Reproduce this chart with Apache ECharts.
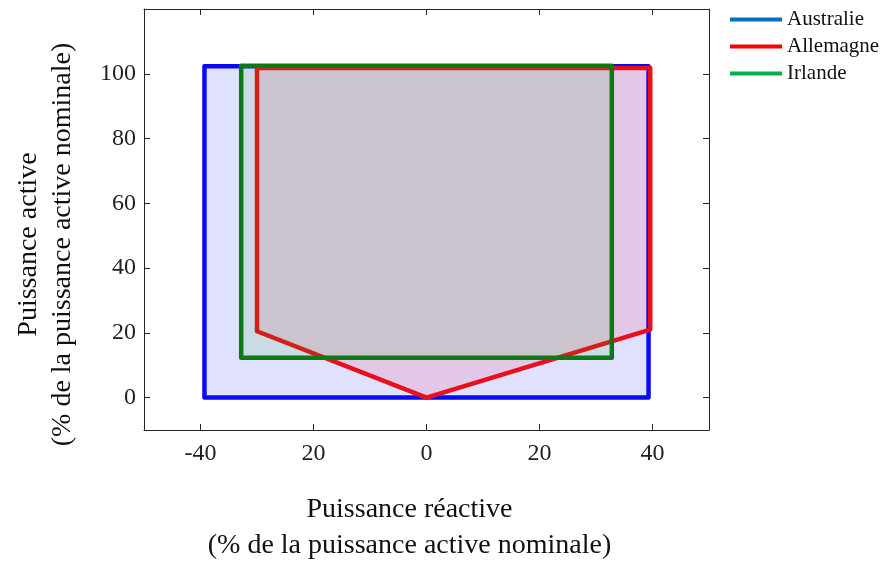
<!DOCTYPE html>
<html>
<head>
<meta charset="utf-8">
<script src="https://cdn.jsdelivr.net/npm/echarts@6/dist/echarts.min.js"></script>
<style>
  html, body { margin: 0; padding: 0; background: #fff; }
  #chart { width: 889px; height: 561px; }
</style>
</head>
<body>
<div id="chart"></div>
<script>
// Capability envelopes: [reactive power, active power] vertices, in % of rated active power
const australiaPts = [[-39.3, 0], [39.3, 0], [39.3, 102.3], [-39.3, 102.3]];
const allemagnePts = [[-30, 101.8], [-30, 20.5], [0, 0], [39.6, 21], [39.6, 101.8]];
const irlandePts = [[-32.8, 12.3], [32.8, 12.3], [32.8, 102.5], [-32.8, 102.5]];

const seriesNames = ['Australie', 'Allemagne', 'Irlande'];

const xTicks = [-40, -20, 0, 20, 40];
const xTickLabels = ['-40', '20', '0', '20', '40'];
const yTicks = [0, 20, 40, 60, 80, 100];
const yTickLabels = ['0', '20', '40', '60', '80', '100'];

const FONT = 'Liberation Serif';

function polygonSeries(name, pts, stroke, fill) {
  return {
    name: name,
    type: 'custom',
    coordinateSystem: 'cartesian2d',
    xAxisIndex: 0,
    yAxisIndex: 0,
    data: pts,
    encode: { x: 0, y: 1 },
    silent: true,
    renderItem: function (params, api) {
      if (params.dataIndex !== 0) return null;
      const points = pts.map(p => api.coord(p));
      return {
        type: 'polygon',
        shape: { points: points },
        style: {
          fill: fill,
          stroke: stroke,
          lineWidth: 4.5,
          lineJoin: 'round'
        }
      };
    }
  };
}

const chart = echarts.init(document.getElementById('chart'), null, { renderer: 'canvas' });

const tickStyle = { show: true, inside: true, length: 6, lineStyle: { color: '#262626', width: 1 } };
const frameLine = { show: true, onZero: false, lineStyle: { color: '#262626', width: 1 } };

chart.setOption({
  animation: false,
  backgroundColor: '#fff',
  grid: {
    left: 144, top: 9, right: 180, bottom: 131,
    outerBoundsMode: 'none',
    show: false
  },
  legend: {
    orient: 'vertical',
    left: 725, top: 4,
    itemWidth: 52, itemHeight: 4, itemGap: 6,
    icon: 'rect',
    textStyle: { fontFamily: FONT, fontSize: 21, color: '#111' },
    data: [
      { name: seriesNames[0], itemStyle: { color: '#0072bd' } },
      { name: seriesNames[1], itemStyle: { color: '#ff0000' } },
      { name: seriesNames[2], itemStyle: { color: '#00b050' } }
    ]
  },
  xAxis: [{
    type: 'value', min: -50, max: 50, position: 'bottom',
    name: 'Puissance réactive\n(% de la puissance active nominale)',
    nameLocation: 'middle', nameGap: 62,
    nameTextStyle: { fontFamily: FONT, fontSize: 28, color: '#111', lineHeight: 36, padding: [0, 34, 0, 0] },
    axisLine: frameLine,
    axisTick: Object.assign({ customValues: xTicks }, tickStyle),
    axisLabel: {
      customValues: xTicks,
      formatter: v => xTickLabels[xTicks.indexOf(v)],
      fontFamily: FONT, fontSize: 24, color: '#222', margin: 12
    },
    splitLine: { show: false }
  }, {
    type: 'value', min: -50, max: 50, position: 'top',
    axisLine: frameLine,
    axisTick: Object.assign({ customValues: xTicks }, tickStyle),
    axisLabel: { show: false },
    splitLine: { show: false }
  }],
  yAxis: [{
    type: 'value', min: -10, max: 120, position: 'left',
    name: 'Puissance active\n(% de la puissance active nominale)',
    nameLocation: 'middle', nameGap: 64, nameRotate: 90,
    nameTextStyle: { fontFamily: FONT, fontSize: 28, color: '#111', lineHeight: 34, padding: [0, 50, 0, 0] },
    axisLine: frameLine,
    axisTick: Object.assign({ customValues: yTicks }, tickStyle),
    axisLabel: {
      customValues: yTicks,
      formatter: v => yTickLabels[yTicks.indexOf(v)],
      fontFamily: FONT, fontSize: 24, color: '#222', margin: 8
    },
    splitLine: { show: false }
  }, {
    type: 'value', min: -10, max: 120, position: 'right',
    axisLine: frameLine,
    axisTick: Object.assign({ customValues: yTicks }, tickStyle),
    axisLabel: { show: false },
    splitLine: { show: false }
  }],
  series: [
    polygonSeries(seriesNames[0], australiaPts, '#0a0af0', 'rgba(0,0,255,0.12)'),
    polygonSeries(seriesNames[1], allemagnePts, '#e8101c', 'rgba(255,0,40,0.11)'),
    polygonSeries(seriesNames[2], irlandePts, '#0c7a14', 'rgba(0,180,0,0.10)')
  ]
});
</script>
</body>
</html>
